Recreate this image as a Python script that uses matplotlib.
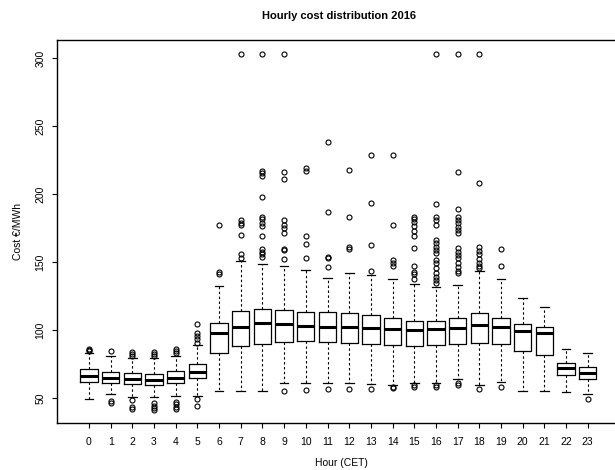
import matplotlib
matplotlib.use("Agg")
import matplotlib.pyplot as plt

plt.rcParams['font.family'] = ['Liberation Sans', 'DejaVu Sans']

# Werte (EUR/MWh)
hours = list(range(24))
q1 = [62.2, 61.0, 60.3, 60.0, 61.0, 65.2, 83.1, 88.7, 90.2, 91.4, 91.9, 91.4,
      90.7, 89.9, 89.0, 88.5, 89.0, 90.2, 90.9, 90.2, 84.6, 82.1, 67.0, 64.0]
med = [66.4, 65.2, 64.2, 63.7, 65.2, 69.6, 98.2, 102.6, 105.1, 104.4, 103.2, 102.6,
       102.4, 101.9, 100.9, 100.2, 100.9, 101.9, 103.7, 102.4, 99.5, 98.2, 72.5, 68.8]
q3 = [71.3, 69.6, 68.4, 67.9, 69.8, 75.0, 105.6, 114.0, 115.4, 114.9, 113.5, 113.5,
      113.0, 111.3, 108.8, 107.1, 107.1, 109.3, 112.5, 109.3, 104.4, 102.6, 76.0, 72.8]
whislo = [49.3, 52.9, 51.2, 50.7, 51.7, 51.9, 55.4, 55.4, 55.4, 61.2, 61.5, 61.0,
          61.0, 60.3, 59.8, 61.0, 61.5, 64.0, 59.6, 62.0, 55.4, 55.1, 54.6, 53.2]
whishi = [83.1, 81.3, 79.9, 79.9, 81.3, 89.2, 132.6, 150.7, 149.0, 147.5, 144.3, 138.7,
          142.4, 140.7, 137.7, 134.0, 132.1, 133.1, 143.9, 137.5, 123.5, 116.9, 86.5, 83.3]
fliers = [
    [84.5, 85.5, 86.5],
    [84.5, 48.2, 46.3],
    [81.0, 82.5, 84.0, 48.7, 43.3, 41.8],
    [81.0, 82.5, 84.0, 46.8, 44.5, 42.5, 41.4],
    [83.5, 84.5, 86.0, 47.5, 45.5, 43.5, 41.8],
    [104.4, 97.8, 95.5, 93.5, 91.0, 49.5, 44.5],
    [141.4, 143.1, 177.4],
    [153.4, 156.1, 170.1, 177.2, 179.1, 181.1, 303.0],
    [154.1, 156.1, 157.8, 159.8, 169.6, 176.7, 179.1, 181.6, 183.5, 198.0,
     213.5, 215.4, 217.4, 303.0],
    [152.4, 159.0, 159.8, 171.3, 175.5, 177.4, 181.1, 211.0, 216.6, 303.0, 55.6],
    [153.4, 163.5, 169.6, 217.4, 219.6, 56.1],
    [146.8, 153.0, 153.7, 187.2, 238.2, 56.6],
    [160.0, 161.0, 183.5, 217.9, 56.8],
    [143.4, 163.0, 193.8, 228.9, 57.1],
    [147.3, 149.3, 151.5, 177.4, 228.9, 58.5, 57.4],
    [137.7, 141.2, 142.6, 147.5, 160.7, 169.1, 173.0, 176.9, 179.4, 181.6,
     183.5, 59.5, 58.5],
    [135.0, 137.0, 139.4, 142.4, 145.6, 149.3, 151.7, 156.6, 159.0, 161.5,
     164.0, 166.4, 177.4, 181.1, 183.5, 192.6, 303.0, 59.8, 58.5],
    [142.0, 143.9, 146.8, 149.8, 152.9, 155.4, 157.8, 160.3, 171.3, 173.8,
     176.2, 178.7, 181.1, 183.5, 189.2, 216.6, 303.0, 61.5, 59.8],
    [145.6, 147.5, 149.3, 152.2, 156.1, 158.6, 161.0, 208.1, 303.0, 56.6],
    [147.5, 159.6, 58.5],
    [],
    [],
    [],
    [49.5],
]

stats = []
for i in range(len(hours)):
    stats.append(dict(q1=q1[i], med=med[i], q3=q3[i], whislo=whislo[i],
                      whishi=whishi[i], fliers=fliers[i]))

fig = plt.figure(figsize=(6.15, 4.70), dpi=100)
# Plotbereich wie im R-Original (rechts angeschnitten)
ax = fig.add_axes([57.3 / 615, 1 - 423.3 / 470, 562.1 / 615, 383.3 / 470])

ax.bxp(stats, positions=hours, widths=0.8, capwidths=0.4, manage_ticks=False,
       boxprops=dict(color='black', linewidth=0.9),
       medianprops=dict(color='black', linewidth=2.2),
       whiskerprops=dict(color='black', linewidth=0.8, linestyle=(0, (2.2, 2.2))),
       capprops=dict(color='black', linewidth=0.9),
       flierprops=dict(marker='o', markersize=3.6, markerfacecolor='none',
                       markeredgecolor='black', markeredgewidth=0.8))

ax.set_xlim(-1.46, 24.46)
ax.set_ylim(31.6, 313.5)
ax.set_xticks(hours)
ax.set_xticklabels([str(h) for h in hours])
ax.set_yticks([50, 100, 150, 200, 250, 300])
ax.tick_params(axis='both', direction='out', length=3.6, width=0.8,
               labelsize=7.5, color='black')
ax.tick_params(axis='x', pad=6)
ax.tick_params(axis='y', pad=5)
for lab in ax.get_yticklabels():
    lab.set_rotation(90)
    lab.set_va('center')
for sp in ax.spines.values():
    sp.set_linewidth(1.0)
    sp.set_color('black')

fig.text(339 / 615, 1 - 16 / 470, 'Hourly cost distribution 2016',
         ha='center', va='center', fontsize=8, fontweight='bold')
fig.text(341 / 615, 1 - 463 / 470, 'Hour (CET)', ha='center', va='center', fontsize=7.5)
fig.text(18 / 615, 1 - 231 / 470, 'Cost €/MWh', ha='center', va='center',
         rotation=90, fontsize=7.5)

fig.savefig('out.png', dpi=100)
